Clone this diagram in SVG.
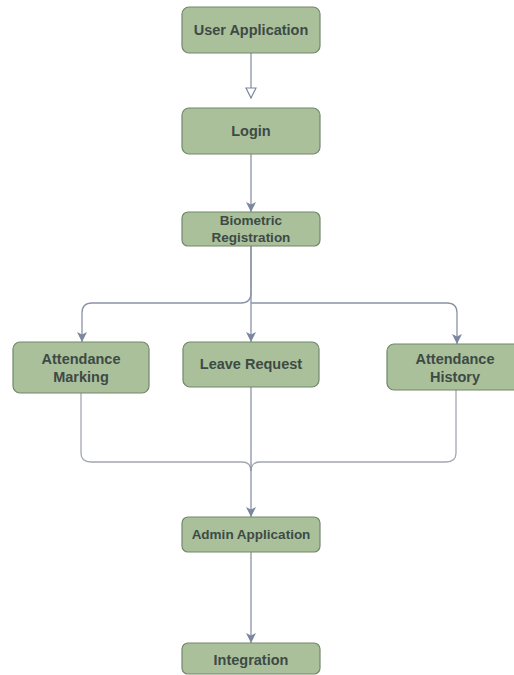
<svg xmlns="http://www.w3.org/2000/svg" width="514" height="675" viewBox="0 0 514 675">
<defs>
<marker id="arr" viewBox="0 0 10 10" refX="10" refY="5" markerWidth="10" markerHeight="10" markerUnits="userSpaceOnUse" orient="auto">
<path d="M0,0 L10,5 L0,10 L2.5,5 Z" fill="#7b879e"/>
</marker>
<marker id="open" viewBox="0 0 12 12" refX="11" refY="6" markerWidth="12" markerHeight="12" markerUnits="userSpaceOnUse" orient="auto">
<path d="M1,1 L11,6 L1,11 Z" fill="#ffffff" stroke="#7b879e" stroke-width="1.2"/>
</marker>
</defs>
<style>
.n{fill:#a9c09b;stroke:#73876b;stroke-width:1.2}
.t{font-family:"Liberation Sans",Arial,sans-serif;font-weight:bold;font-size:14.5px;fill:#3e4a45;text-anchor:middle;dominant-baseline:central}
.s{font-size:13.5px}
.c{fill:none;stroke:#8a93a6;stroke-width:1.3}
.m{fill:none;stroke:#a3a7ae;stroke-width:1.3}
</style>
<rect width="514" height="675" fill="#ffffff"/>
<g id="connectors">
<path class="c" d="M251,53 V98" marker-end="url(#open)"/>
<path class="c" d="M251,154 V212" marker-end="url(#arr)"/>
<path class="c" d="M251,246 V293 Q251,303 241,303 H92 Q82,303 82,313 V342" marker-end="url(#arr)"/>
<path class="c" d="M251,246 V342" marker-end="url(#arr)"/>
<path class="c" d="M251,303 H447 Q457,303 457,313 V344" marker-end="url(#arr)"/>
<path class="m" d="M81,393 V453 Q81,462 91,462 H242 Q251,462 251,471"/>
<path class="m" d="M456,390 V453 Q456,462 446,462 H260 Q251,462 251,471"/>
<path class="c" d="M251,387 V517" marker-end="url(#arr)"/>
<path class="c" d="M251,552 V643" marker-end="url(#arr)"/>
</g>
<g id="user-application">
<rect class="n" x="182" y="7" width="138" height="46" rx="7"/>
<text class="t" x="251" y="30">User Application</text>
</g>
<g id="login">
<rect class="n" x="182" y="108" width="138" height="46" rx="7"/>
<text class="t" x="251" y="131">Login</text>
</g>
<g id="biometric-registration">
<rect class="n" x="182" y="212" width="138" height="34" rx="6"/>
<text class="t s" x="251" y="220">Biometric</text>
<text class="t s" x="251" y="237">Registration</text>
</g>
<g id="attendance-marking">
<rect class="n" x="13" y="342" width="136" height="51" rx="7"/>
<text class="t" x="81" y="359">Attendance</text>
<text class="t" x="81" y="377">Marking</text>
</g>
<g id="leave-request">
<rect class="n" x="183" y="342" width="136" height="45" rx="7"/>
<text class="t" x="251" y="364">Leave Request</text>
</g>
<g id="attendance-history">
<rect class="n" x="387" y="344" width="138" height="46" rx="7"/>
<text class="t" x="455" y="359">Attendance</text>
<text class="t" x="455" y="377">History</text>
</g>
<g id="admin-application">
<rect class="n" x="182" y="517" width="138" height="35" rx="6"/>
<text class="t s" x="251" y="534">Admin Application</text>
</g>
<g id="integration">
<rect class="n" x="182" y="643" width="138" height="31" rx="6"/>
<text class="t" x="251" y="660">Integration</text>
</g>
</svg>
